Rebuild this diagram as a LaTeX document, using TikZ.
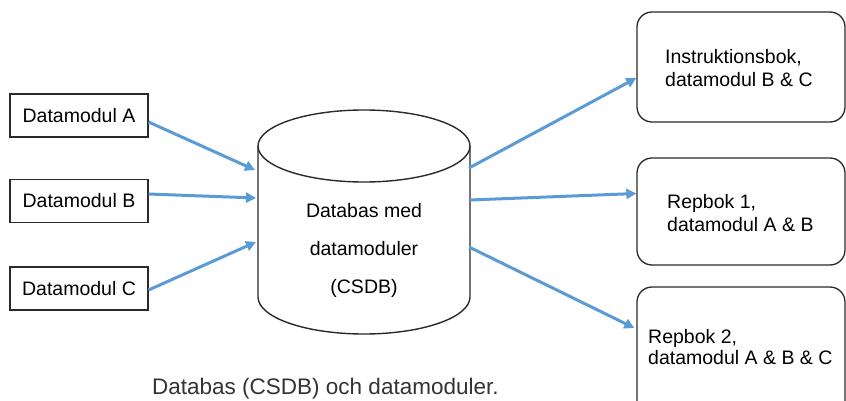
\documentclass[tikz,border=0pt]{standalone}
\usepackage{fontspec}
\setmainfont{Liberation Sans}
\usetikzlibrary{arrows.meta}
\definecolor{arrowblue}{HTML}{5B9BD5}
\definecolor{linegray}{HTML}{2A2A2A}
\begin{document}
\begin{tikzpicture}[x=1pt,y=1pt,
  srcbox/.style={draw=linegray, line width=1.1pt, minimum width=138pt, minimum height=43pt, inner sep=0pt,
    font=\fontsize{19.5}{23}\selectfont},
  outbox/.style={draw=linegray, line width=1.3pt, rounded corners=15pt, minimum width=208pt, inner sep=0pt},
  boxtext/.style={anchor=west, align=left, inner sep=0pt, font=\fontsize{19.5}{23}\selectfont},
  flow/.style={draw=arrowblue, line width=3pt, -{Triangle[length=10pt,width=10pt]}},
  dbtext/.style={align=center, inner sep=0pt, font=\fontsize{19.5}{38}\selectfont}
]
\useasboundingbox (0,0) rectangle (846,400);
\clip (0,0) rectangle (846,400);

% source boxes
\node[srcbox] (A) at (79,284.5) {Datamodul A};
\node[srcbox] (B) at (79,199) {Datamodul B};
\node[srcbox] (C) at (79,111.5) {Datamodul C};

% cylinder
\draw[linegray, line width=1.4pt, fill=white] (258,254) -- (258,103)
  arc[start angle=180, end angle=360, x radius=106, y radius=37] -- (470,254);
\draw[linegray, line width=1.4pt] (364,254) ellipse[x radius=106, y radius=36];
\node[dbtext] (db) at (364,150) {Databas med\\datamoduler\\(CSDB)};

\coordinate (in1) at (255,230);
\coordinate (in2) at (256,202);
\coordinate (in3) at (256,158);
\coordinate (o1) at (469,232);
\coordinate (o2) at (470,200);
\coordinate (o3) at (469,153);

% output boxes
\node[outbox, minimum height=110pt] (R1) at (741,333) {};
\node[outbox, minimum height=107pt] (R2) at (741,188.5) {};
\node[outbox, minimum height=140pt] (R3) at (741,43) {};

\node[boxtext] (t1) at (665,331.5) {Instruktionsbok,\\datamodul B \& C};
\node[boxtext] (t2) at (667,187) {Repbok 1,\\datamodul A \& B};
\node[boxtext, font=\fontsize{19.5}{21}\selectfont] (t3) at (648,53) {Repbok 2,\\datamodul A \& B \& C};

% arrows
\draw[flow] ([yshift=-6.5pt]A.east) -- (in1);
\draw[flow] ([yshift=7pt]B.east) -- (in2);
\draw[flow] ([yshift=-1.5pt]C.east) -- (in3);
\draw[flow] (o1) -- ([yshift=-11pt]R1.west);
\draw[flow] (o2) -- ([yshift=18pt]R2.west);
\draw[flow] (o3) -- ([xshift=-2pt,yshift=29pt]R3.west);

% caption
\node[anchor=base west, inner sep=0pt, text=black!80, font=\fontsize{22.5}{27}\selectfont] (cap) at (152,6) {Databas (CSDB) och datamoduler.};
\end{tikzpicture}
\end{document}
